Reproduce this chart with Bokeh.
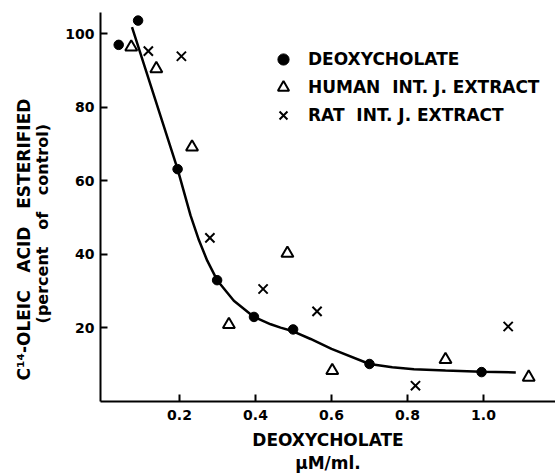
from bokeh.plotting import figure
from bokeh.models import Range1d, FixedTicker, Legend, LegendItem, LinearAxis
from bokeh.embed import file_html
from bokeh.resources import INLINE

# ---- data ----
deoxy_x = [0.04, 0.091, 0.195, 0.299, 0.396, 0.499, 0.70, 0.995]
deoxy_y = [97.0, 103.6, 63.2, 33.0, 23.0, 19.6, 10.2, 8.0]

human_x = [0.073, 0.139, 0.233, 0.33, 0.484, 0.602, 0.90, 1.119]
human_y = [96.4, 90.5, 69.2, 20.9, 40.3, 8.4, 11.4, 6.6]

rat_x = [0.118, 0.205, 0.28, 0.42, 0.562, 0.821, 1.065]
rat_y = [95.3, 93.9, 44.5, 30.6, 24.5, 4.3, 20.4]

# hand-drawn curve through the deoxycholate points
curve_x = [0.075, 0.195, 0.229, 0.251, 0.273, 0.299, 0.343, 0.396, 0.44,
           0.466, 0.499, 0.545, 0.60, 0.70, 0.76, 0.817, 0.90, 0.995, 1.085]
curve_y = [101.8, 63.2, 50.6, 43.9, 38.3, 33.0, 27.4, 23.0, 21.0,
           20.1, 19.1, 17.0, 14.3, 10.2, 9.3, 8.8, 8.4, 8.1, 7.9]

x_ticks = [0.2, 0.4, 0.6, 0.8, 1.0]
x_tick_labels = ["0.2", "0.4", "0.6", "0.8", "1.0"]
y_ticks = [20, 40, 60, 80, 100]
y_tick_labels = ["20", "40", "60", "80", "100"]

NB = "\u00a0"
legend_labels = ["DEOXYCHOLATE",
                 "HUMAN" + NB * 2 + "INT." + NB + "J." + NB + "EXTRACT",
                 "RAT" + NB * 2 + "INT." + NB + "J." + NB + "EXTRACT"]
x_title = "DEOXYCHOLATE"
x_unit = "\u00b5M/ml."
y_title1 = ("C\u00b9\u2074-OLEIC" + NB * 3 + "ACID" + NB * 3 + "ESTERIFIED"
            + NB * 11)
y_title2 = "(percent" + NB * 3 + "of" + NB * 3 + "control)" + NB * 6

FONT = "DejaVu Sans"
INK = "#000000"

p = figure(width=555, height=475, output_backend="svg", toolbar_location=None,
           x_range=Range1d(-0.0079, 1.1895), y_range=Range1d(0, 105.8),
           min_border_left=100, min_border_right=0, min_border_top=12,
           min_border_bottom=74)
p.outline_line_color = None
p.grid.visible = False
p.background_fill_color = "white"


def style_axis(ax):
    ax.axis_line_width = 2
    ax.axis_line_color = INK
    ax.major_tick_line_width = 2
    ax.major_tick_line_color = INK
    ax.major_tick_in = 7
    ax.major_tick_out = 0
    ax.minor_tick_line_color = None
    ax.minor_tick_in = 0
    ax.minor_tick_out = 0
    ax.major_label_text_font = FONT
    ax.major_label_text_font_style = "bold"
    ax.major_label_text_font_size = "14px"
    ax.major_label_text_color = INK
    ax.axis_label_text_font = FONT
    ax.axis_label_text_font_style = "bold"
    ax.axis_label_text_color = INK


def title_only_axis(label, size, standoff):
    ax = LinearAxis(ticker=FixedTicker(ticks=[]), axis_label=label)
    ax.axis_line_color = None
    ax.major_tick_line_color = None
    ax.minor_tick_line_color = None
    ax.major_tick_in = 0
    ax.major_tick_out = 0
    ax.minor_tick_in = 0
    ax.minor_tick_out = 0
    ax.major_label_standoff = 0
    ax.axis_label_text_font = FONT
    ax.axis_label_text_font_style = "bold"
    ax.axis_label_text_font_size = size
    ax.axis_label_text_color = INK
    ax.axis_label_standoff = standoff
    return ax


xa = p.xaxis[0]
ya = p.yaxis[0]
style_axis(xa)
style_axis(ya)

xa.ticker = FixedTicker(ticks=x_ticks)
xa.major_label_overrides = dict(zip(x_ticks, x_tick_labels))
xa.major_label_standoff = 8
xa.axis_label = x_title
xa.axis_label_text_font_size = "17px"
xa.axis_label_standoff = 7

ya.ticker = FixedTicker(ticks=y_ticks)
ya.major_label_overrides = dict(zip(y_ticks, y_tick_labels))
ya.major_label_standoff = 6
ya.axis_label = y_title2
ya.axis_label_text_font_size = "16px"
ya.axis_label_standoff = 10

p.add_layout(title_only_axis(x_unit, "17px", 0), "below")
p.add_layout(title_only_axis(y_title1, "17px", -3), "left")

# curve
p.line(curve_x, curve_y, line_color=INK, line_width=2.5)

r_deoxy = p.scatter(deoxy_x, deoxy_y, marker="circle", size=9.5,
                    fill_color=INK, line_color=INK, line_width=1)
r_human = p.scatter(human_x, human_y, marker="triangle", size=12,
                    fill_color="white", line_color=INK, line_width=2)
r_rat = p.scatter(rat_x, rat_y, marker="x", size=13,
                  line_color=INK, line_width=2)

legend = Legend(items=[LegendItem(label=legend_labels[0], renderers=[r_deoxy]),
                       LegendItem(label=legend_labels[1], renderers=[r_human]),
                       LegendItem(label=legend_labels[2], renderers=[r_rat])],
                location=(169, 272), orientation="vertical",
                glyph_width=28, glyph_height=28, label_height=28, spacing=0,
                label_standoff=11, padding=0, margin=0,
                border_line_color=None, background_fill_alpha=0,
                label_text_font=FONT, label_text_font_style="bold",
                label_text_font_size="17px", label_text_color=INK)
p.add_layout(legend, "center")

open("out.html", "w").write(file_html(p, INLINE))
